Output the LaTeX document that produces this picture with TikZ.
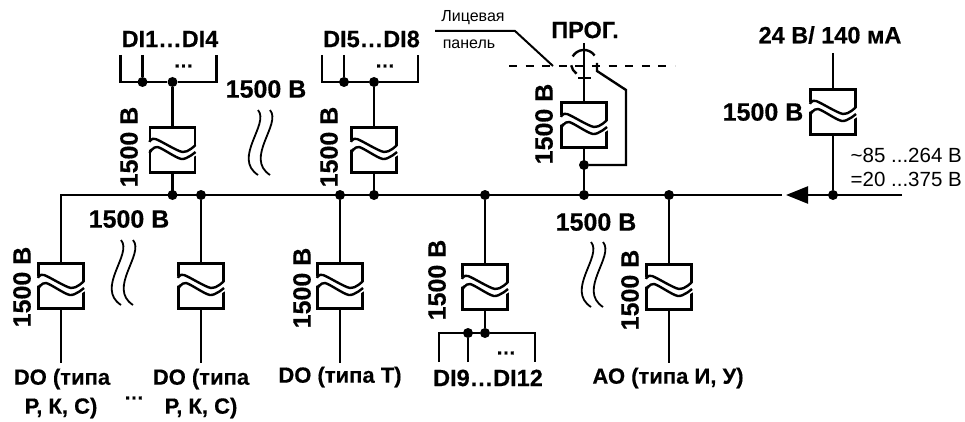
\documentclass[tikz,border=0pt]{standalone}
\usepackage{fontspec}
\setmainfont[BoldFeatures={FakeBold=0.4}]{Liberation Sans}
\usetikzlibrary{arrows.meta}
\tikzset{
  wire/.style={line width=2.4pt,line join=miter},
  dot/.style={circle,fill=black,inner sep=0pt,minimum size=10pt},
  isobox/.style={draw,line width=2.4pt,inner sep=0pt,minimum width=45pt,minimum height=45pt},
  lab/.style={font=\bfseries\fontsize{22}{22}\selectfont,inner sep=0pt},
  dilab/.style={font=\bfseries\fontsize{23.5}{23.5}\selectfont,inner sep=0pt},
  etc/.style={font=\bfseries\fontsize{20}{20}\selectfont,inner sep=0pt},
  volt/.style={font=\bfseries\fontsize{25}{25}\selectfont,inner sep=0pt},
  small/.style={font=\fontsize{16}{16}\selectfont,inner sep=0pt},
  supply/.style={font=\fontsize{20.5}{20.5}\selectfont,inner sep=0pt,anchor=east}
}
% isolation barrier
\newcommand{\isol}[3]{
  \node[isobox] (#1) at (#2,#3) {};
  \begin{scope}[shift={(#2,#3)}]
    \draw[white,line width=8pt] plot[smooth] coordinates {(-26,-3) (-16,-7) (10,6) (26,-1)};
    \draw[wire] plot[smooth] coordinates {(-23,-8) (-17,-11) (10,2) (23,-5)};
    \draw[wire] plot[smooth] coordinates {(-23,3) (-15,-3) (9,9) (23,2)};
  \end{scope}
}
% double break mark
\newcommand{\brk}[2]{
  \foreach \d in {0,12}
    \draw[line width=1.8pt,shift={(#1+\d,#2)}] (0,0) .. controls (12,14) and (-26,48) .. (0,65);
}
\begin{document}
\begin{tikzpicture}[x=1pt,y=-1pt]
\useasboundingbox (0,0) rectangle (965,422);
\foreach \n/\x/\y in {a/172.5/150,b/374/150,p/584/125,s/833/112,c/61/286,d/201/286,e/340/286,f/485/287,g/669/287}
  \isol{\n}{\x}{\y};
% bus
\foreach \n/\x in {1/172.5,2/201,3/340,4/374,5/485,6/584,7/669,8/833}
  \node[dot] (j\n) at (\x,195) {};
\coordinate (busgap) at (782,195);
\coordinate (bustip) at (786,195);
\coordinate (busend) at (902,195);
\draw[wire] (c.north) |- (busgap);
\draw[wire,-{Triangle[length=22pt,width=17pt]}] (busend) -- (bustip);
% top groups
\foreach \n/\x in {a/172.5,b/374} {
  \node[dot] (\n2) at (\x,82) {};
  \node[dot] (\n1) at (\x-30,82) {};
  \coordinate (\n l) at (\x-52,55);
  \coordinate (\n m) at (\x-30,55);
  \coordinate (\n r) at (\x+44,55);
  \draw[wire] (\n l) |- (\n 2) -| (\n r);
  \draw[wire] (\n m) -- (\n 1);
  \draw[wire] (\n 2) -- (\n.north);
  \draw[wire] (\n.south) -- (\n 2 |- j1);
  \node[etc] (\n d) at (\x+11,66) {…};
}
\node[dilab] (dia) at (170,39) {DI1…DI4};
\node[dilab] (dib) at (371.5,39) {DI5…DI8};
% programming port
\coordinate (ptop) at (584,43);
\coordinate (pstub) at (597,63);
\coordinate (pbend) at (597,71);
\coordinate (pknee) at (626,90);
\node[dot] (pj) at (584,165) {};
\coordinate (tl) at (578,78);
\coordinate (tr) at (591,78);
\coordinate (dl) at (509,66);
\coordinate (dr) at (675,66);
\coordinate (ll) at (435,31);
\coordinate (lm) at (515,31);
\coordinate (lr) at (553,66);
\draw[wire] (ptop) -- (p.north);
\draw[wire] (p.south) -- (j6);
\draw[wire] (tl) -- (tr);
\draw[wire] (pstub) -- (pbend) -- (pknee) |- (pj);
\draw[line width=2.4pt,dash pattern=on 8pt off 8.6pt] (dl) -- (dr);
\draw[line width=2pt] (ll) -- (lm) -- (lr);
\draw[wire] (594.6,55.5) arc (-35:-150:13);
\draw[wire] (571.2,65.3) arc (170:125:13);
\node[small] (face) at (473,18) {Лицевая};
\node[small] (panel) at (469,44) {панель};
\node[dilab] (prog) at (585,30) {ПРОГ.};
% supply
\coordinate (stop) at (833,53);
\draw[wire] (stop) -- (s.north);
\draw[wire] (s.south) -- (j8);
\node[dilab] (pow) at (830,35) {24 В/ 140 мА};
\node[supply] (acv) at (962,155) {\textasciitilde 85 ...264 В};
\node[supply] (dcv) at (962,179) {=20 ...375 В};
% lower channels
\draw[wire] (j2) -- (d.north);
\draw[wire] (j3) -- (e.north);
\draw[wire] (j5) -- (f.north);
\draw[wire] (j7) -- (g.north);
\foreach \n/\x in {c/61,d/201,e/340,g/669} {
  \coordinate (\n b) at (\x,363);
  \draw[wire] (\n.south) -- (\n b);
}
\node[dot] (f2) at (485,333) {};
\node[dot] (f1) at (468,333) {};
\coordinate (fl) at (439,362);
\coordinate (fm) at (468,362);
\coordinate (fr) at (535,362);
\draw[wire] (fl) |- (f2) -| (fr);
\draw[wire] (fm) -- (f1);
\draw[wire] (f.south) -- (f2);
\node[etc] (fd) at (506,353) {…};
\node[lab] (doa) at (62,379) {DO (типа};
\node[lab] (dob) at (61,408) {Р, К, С)};
\node[lab] (doc) at (201,379) {DO (типа};
\node[lab] (dod) at (201,408) {Р, К, С)};
\node[etc] (dots) at (134,398) {…};
\node[lab] (doe) at (340,377) {DO (типа Т)};
\node[dilab] (dic) at (488,378) {DI9…DI12};
\node[lab] (ao) at (668,378) {АО (типа И, У)};
% voltages
\node[volt,rotate=90] (v1) at (129,147) {1500 В};
\node[volt,rotate=90] (v2) at (329,147) {1500 В};
\node[volt,rotate=90] (v3) at (544,124) {1500 В};
\node[volt,rotate=90] (v4) at (22,287) {1500 В};
\node[volt,rotate=90] (v5) at (302,288) {1500 В};
\node[volt,rotate=90] (v6) at (437,280) {1500 В};
\node[volt,rotate=90] (v7) at (630,290) {1500 В};
\node[volt] (v8) at (266,89) {1500 В};
\node[volt] (v9) at (129,219) {1500 В};
\node[volt] (v10) at (596,222) {1500 В};
\node[volt] (v11) at (763,112) {1500 В};
\brk{258}{110}
\brk{121}{240}
\brk{591}{242}
\end{tikzpicture}
\end{document}
